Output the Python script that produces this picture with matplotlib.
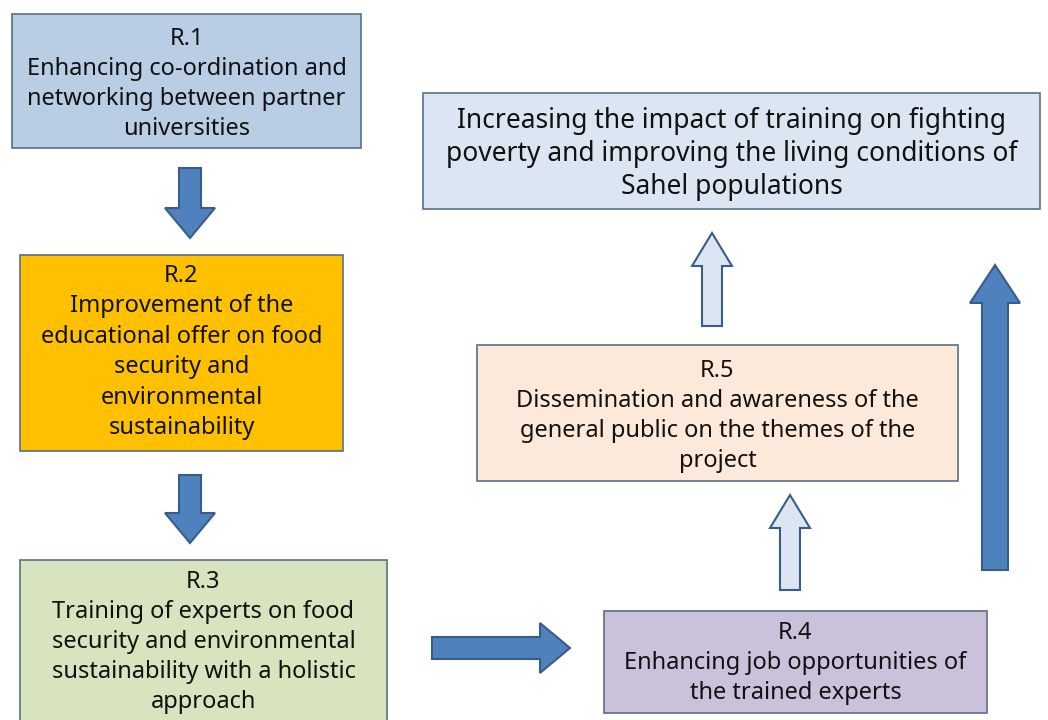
import matplotlib
matplotlib.use("Agg")
import matplotlib.pyplot as plt
from matplotlib.patches import Rectangle, FancyArrow

plt.rcParams["font.family"] = ["Noto Sans", "DejaVu Sans"]

# result boxes: label, text
labels = ["R.1", "R.2", "R.3", "R.4", "R.5", ""]
texts = [
    "Enhancing co-ordination and\nnetworking between partner\nuniversities",
    "Improvement of the\neducational offer on food\nsecurity and\nenvironmental\nsustainability",
    "Training of experts on food\nsecurity and environmental\nsustainability with a holistic\napproach",
    "Enhancing job opportunities of\nthe trained experts",
    "Dissemination and awareness of the\ngeneral public on the themes of the\nproject",
    "Increasing the impact of training on fighting\npoverty and improving the living conditions of\nSahel populations",
]
fills = ["#b9cde5", "#ffc000", "#d7e4bd", "#ccc1da", "#fde9d9", "#dce6f2"]

# layout in pixel units (x0, y0, x1, y1), y downward
boxes = [(12, 14, 361, 148), (20, 255, 343, 451), (20, 560, 387, 725),
         (604, 611, 987, 713), (477, 345, 958, 481), (423, 93, 1040, 209)]
fsizes = [17, 17, 17, 17, 17, 19]
spacing = [1.33, 1.36, 1.33, 1.33, 1.33, 1.22]
text_mid = [84, 352, 642, 663, 416, 154]

# arrows: (x, y, dx, dy, shaft, head_w, head_l, solid)
arrows = [(190, 168, 0, 70, 22, 50, 30, True),
          (190, 475, 0, 68, 22, 50, 30, True),
          (432, 648, 138, 0, 22, 50, 30, True),
          (790, 590, 0, -95, 20, 40, 33, False),
          (712, 326, 0, -93, 20, 40, 33, False),
          (995, 570, 0, -305, 26, 50, 38, True)]

fig = plt.figure(figsize=(10.48, 7.2), dpi=100)
ax = fig.add_axes([0, 0, 1, 1])
ax.set_xlim(0, 1048)
ax.set_ylim(720, 0)
ax.axis("off")

for lab, txt, fc, (x0, y0, x1, y1), fs, ls, ty in zip(labels, texts, fills, boxes,
                                                      fsizes, spacing, text_mid):
    ax.add_patch(Rectangle((x0, y0), x1 - x0, y1 - y0, facecolor=fc,
                           edgecolor="#5a6f86", lw=1.2, zorder=2))
    s = (lab + "\n" + txt) if lab else txt
    ax.text((x0 + x1) / 2, ty, s, ha="center", va="center", fontsize=fs,
            color="#111111", linespacing=ls, zorder=3)

for x, y, dx, dy, sw, hw, hl, solid in arrows:
    ax.add_patch(FancyArrow(x, y, dx, dy, width=sw, head_width=hw, head_length=hl,
                            length_includes_head=True,
                            facecolor="#4f81bd" if solid else "#dce6f2",
                            edgecolor="#385d8a", lw=1.5, zorder=2))

fig.savefig("out.png", dpi=100, facecolor="white")
